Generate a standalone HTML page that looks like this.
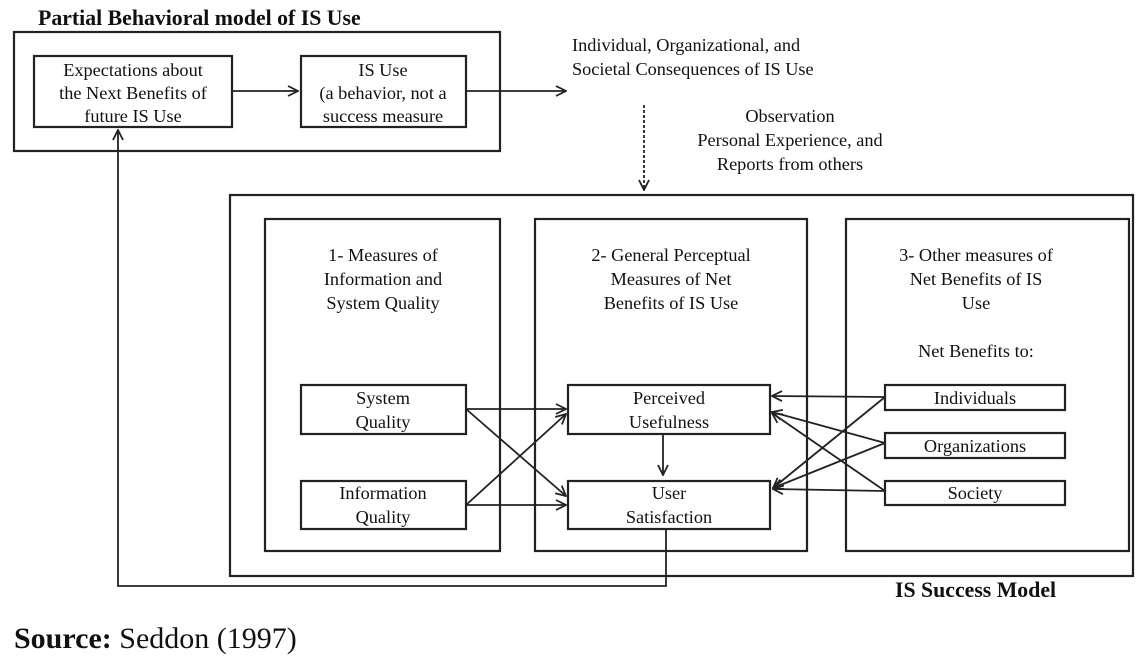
<!DOCTYPE html>
<html><head><meta charset="utf-8"><style>
html,body{margin:0;padding:0;background:#fff;}
svg{display:block;}
text{font-family:"Liberation Serif",serif;fill:#111;}
</style></head><body>
<svg width="1142" height="658" viewBox="0 0 1142 658" xmlns="http://www.w3.org/2000/svg">
<defs>
<marker id="a" viewBox="0 0 12 12" refX="11" refY="6" markerWidth="12" markerHeight="12" markerUnits="userSpaceOnUse" orient="auto">
<path d="M1,1 L11,6 L1,11" fill="none" stroke="#222" stroke-width="1.8"/>
</marker>
</defs>
<g fill="none" stroke="#222" stroke-width="2.2">
<rect x="14" y="32" width="486" height="119"/>
<rect x="34" y="56" width="198" height="71"/>
<rect x="301" y="56" width="165" height="71"/>
<rect x="230" y="195" width="903" height="381"/>
<rect x="265" y="219" width="235" height="332"/>
<rect x="535" y="219" width="272" height="332"/>
<rect x="846" y="219" width="283" height="332"/>
<rect x="301" y="385" width="165" height="49"/>
<rect x="301" y="481" width="165" height="48"/>
<rect x="568" y="385" width="202" height="49"/>
<rect x="568" y="481" width="202" height="48"/>
<rect x="885" y="385" width="180" height="25"/>
<rect x="885" y="433" width="180" height="25"/>
<rect x="885" y="481" width="180" height="24"/>
</g>
<g fill="none" stroke="#222" stroke-width="1.8" marker-end="url(#a)">
<line x1="232" y1="91" x2="298" y2="91"/>
<line x1="466" y1="91" x2="566" y2="91"/>
<line x1="644" y1="105" x2="644" y2="190" stroke-dasharray="3,2"/>
<line x1="466" y1="409" x2="566" y2="409"/>
<line x1="466" y1="409" x2="566" y2="496"/>
<line x1="466" y1="505" x2="566" y2="505"/>
<line x1="466" y1="505" x2="566" y2="414"/>
<line x1="663" y1="434" x2="663" y2="475"/>
<line x1="885" y1="397" x2="772" y2="396"/>
<line x1="885" y1="397" x2="773" y2="488"/>
<line x1="885" y1="443" x2="772" y2="412"/>
<line x1="885" y1="443" x2="773" y2="488"/>
<line x1="885" y1="491" x2="772" y2="413"/>
<line x1="885" y1="491" x2="773" y2="489"/>
<polyline points="666,529 666,586 118,586 118,130"/>
</g>
<text x="38" y="25" font-size="21.8" font-weight="bold">Partial Behavioral model of IS Use</text>
<g font-size="18.3" text-anchor="middle">
<text x="133" y="76">Expectations about</text>
<text x="133" y="99">the Next Benefits of</text>
<text x="133" y="122">future IS Use</text>
<text x="383" y="76">IS Use</text>
<text x="383" y="99">(a behavior, not a</text>
<text x="383" y="122">success measure</text>
<text x="790" y="122">Observation</text>
<text x="790" y="146">Personal Experience, and</text>
<text x="790" y="170">Reports from others</text>
<text x="383" y="261">1- Measures of</text>
<text x="383" y="285">Information and</text>
<text x="383" y="309">System Quality</text>
<text x="671" y="261">2- General Perceptual</text>
<text x="671" y="285">Measures of Net</text>
<text x="671" y="309">Benefits of IS Use</text>
<text x="976" y="261">3- Other measures of</text>
<text x="976" y="285">Net Benefits of IS</text>
<text x="976" y="309">Use</text>
<text x="976" y="357">Net Benefits to:</text>
<text x="383" y="404">System</text>
<text x="383" y="428">Quality</text>
<text x="383" y="499">Information</text>
<text x="383" y="523">Quality</text>
<text x="669" y="404">Perceived</text>
<text x="669" y="428">Usefulness</text>
<text x="669" y="499">User</text>
<text x="669" y="523">Satisfaction</text>
<text x="975" y="404">Individuals</text>
<text x="975" y="452">Organizations</text>
<text x="975" y="499">Society</text>
</g>
<text x="572" y="51" font-size="18.3">Individual, Organizational, and</text>
<text x="572" y="75" font-size="18.3">Societal Consequences of IS Use</text>
<text x="895" y="597" font-size="21.8" font-weight="bold">IS Success Model</text>
<text x="14" y="648" font-size="30"><tspan font-weight="bold">Source:</tspan> Seddon (1997)</text>
</svg>
</body></html>
